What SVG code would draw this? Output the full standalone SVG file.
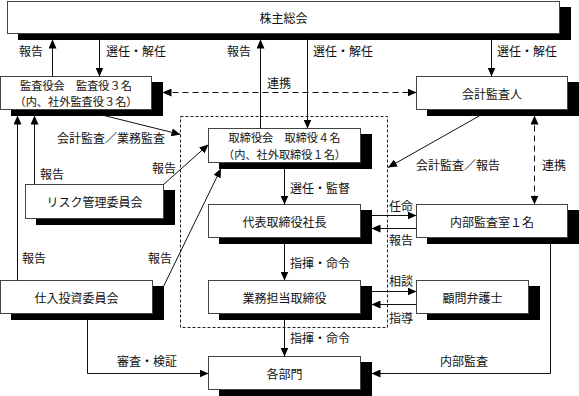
<svg xmlns="http://www.w3.org/2000/svg" width="579" height="396" viewBox="0 0 579 396">
<style>
text{font-family:"Noto Sans CJK JP","Noto Sans CJK SC",sans-serif;font-size:12px;fill:#111}
.box{fill:#fff;stroke:#444;stroke-width:1}
.sh{fill:#000}
.c{text-anchor:middle;dominant-baseline:central}
.c2{text-anchor:middle;dominant-baseline:central;font-size:11.2px}
.l{dominant-baseline:central}
.ln{fill:none;stroke:#111;stroke-width:1}
.ar{marker-end:url(#ah)}
.dash{stroke-dasharray:6 4;marker-start:url(#ah);marker-end:url(#ah)}
.grp{fill:none;stroke:#222;stroke-width:1;stroke-dasharray:3 2}
</style>
<defs>
<marker id="ah" viewBox="0 0 9 8" refX="9" refY="4" markerWidth="9" markerHeight="8" markerUnits="userSpaceOnUse" orient="auto-start-reverse">
<path d="M0,0 L9,4 L0,8 z" fill="#000"/>
</marker>
</defs>
<rect class="grp" x="180.5" y="116.5" width="207" height="211"/>
<g id="n-shareholders">
<rect class="sh" x="18" y="7" width="553" height="33"/>
<rect class="box" x="7.5" y="1.5" width="552" height="32"/>
<text class="c" x="283.5" y="17.5">株主総会</text>
</g>
<g id="n-auditboard">
<rect class="sh" x="11" y="82" width="152" height="34"/>
<rect class="box" x="0.5" y="76.5" width="151" height="33"/>
<text class="c2" x="76" y="84.8">監査役会　監査役３名</text>
<text class="c2" x="76" y="101.2">（内、社外監査役３名）</text>
</g>
<g id="n-accountant">
<rect class="sh" x="427" y="82" width="152" height="34"/>
<rect class="box" x="416.5" y="76.5" width="151" height="33"/>
<text class="c" x="492" y="93">会計監査人</text>
</g>
<g id="n-board">
<rect class="sh" x="219" y="134" width="153" height="35"/>
<rect class="box" x="208.5" y="128.5" width="152" height="34"/>
<text class="c2" x="284.5" y="137.3">取締役会　取締役４名</text>
<text class="c2" x="284.5" y="153.7">（内、社外取締役１名）</text>
</g>
<g id="n-president">
<rect class="sh" x="219" y="210" width="153" height="34"/>
<rect class="box" x="208.5" y="204.5" width="152" height="33"/>
<text class="c" x="284.5" y="221">代表取締役社長</text>
</g>
<g id="n-internalaudit">
<rect class="sh" x="427" y="210" width="152" height="34"/>
<rect class="box" x="416.5" y="204.5" width="151" height="33"/>
<text class="c" x="492" y="221">内部監査室１名</text>
</g>
<g id="n-risk">
<rect class="sh" x="36" y="190" width="139" height="35"/>
<rect class="box" x="25.5" y="184.5" width="138" height="34"/>
<text class="c" x="94.5" y="201.5">リスク管理委員会</text>
</g>
<g id="n-exec">
<rect class="sh" x="219" y="286" width="153" height="34"/>
<rect class="box" x="208.5" y="280.5" width="152" height="33"/>
<text class="c" x="284.5" y="297">業務担当取締役</text>
</g>
<g id="n-lawyer">
<rect class="sh" x="427" y="286" width="113" height="34"/>
<rect class="box" x="416.5" y="280.5" width="112" height="33"/>
<text class="c" x="472.5" y="297">顧問弁護士</text>
</g>
<g id="n-invest">
<rect class="sh" x="11" y="286" width="153" height="34"/>
<rect class="box" x="0.5" y="280.5" width="152" height="33"/>
<text class="c" x="76.5" y="297">仕入投資委員会</text>
</g>
<g id="n-depts">
<rect class="sh" x="219" y="362" width="153" height="34"/>
<rect class="box" x="208.5" y="356.5" width="152" height="33"/>
<text class="c" x="284.5" y="373">各部門</text>
</g>
<g id="connectors">
<path class="ln ar" d="M52.5,76.5 V39.5"/>
<path class="ln ar" d="M99.5,39.5 V76.5"/>
<path class="ln ar" d="M260.5,128.5 V39.5"/>
<path class="ln ar" d="M307.5,39.5 V128.5"/>
<path class="ln ar" d="M491.5,39.5 V76.5"/>
<path class="ln dash" d="M162.5,92.5 H416.5"/>
<path class="ln ar" d="M98,114 L180.5,134.5"/>
<path class="ln ar" d="M34.5,184.5 V115.5"/>
<path class="ln ar" d="M17.5,280.5 V115.5"/>
<path class="ln ar" d="M163.5,184.5 L208.5,144.5"/>
<path class="ln ar" d="M163.5,286.5 L221,168.5"/>
<path class="ln ar" d="M480,115.5 L388,167.5"/>
<path class="ln dash" d="M534.5,115.5 V204.5"/>
<path class="ln ar" d="M284.5,168.5 V204.5"/>
<path class="ln ar" d="M284.5,243.5 V280.5"/>
<path class="ln ar" d="M284.5,319.5 V356.5"/>
<path class="ln ar" d="M371.5,215.5 H416.5"/>
<path class="ln ar" d="M416.5,228.5 H371.5"/>
<path class="ln ar" d="M371.5,291.5 H416.5"/>
<path class="ln ar" d="M416.5,304.5 H371.5"/>
<path class="ln ar" d="M87.5,319.5 V373.5 H208.5"/>
<path class="ln ar" d="M550.5,243.5 V373.5 H371.5"/>
<text class="l" x="19" y="50">報告</text>
<text class="l" x="106" y="50">選任・解任</text>
<text class="l" x="227" y="50">報告</text>
<text class="l" x="313" y="50">選任・解任</text>
<text class="l" x="497" y="50">選任・解任</text>
<text class="l" x="267" y="82">連携</text>
<text class="l" x="57" y="137">会計監査／業務監査</text>
<text class="l" x="152" y="167">報告</text>
<text class="l" x="40" y="173">報告</text>
<text class="l" x="416" y="164">会計監査／報告</text>
<text class="l" x="542" y="164">連携</text>
<text class="l" x="290" y="187">選任・監督</text>
<text class="l" x="389" y="205">任命</text>
<text class="l" x="389" y="239">報告</text>
<text class="l" x="22" y="257">報告</text>
<text class="l" x="148" y="257">報告</text>
<text class="l" x="290" y="262">指揮・命令</text>
<text class="l" x="389" y="280">相談</text>
<text class="l" x="389" y="317">指導</text>
<text class="l" x="290" y="337">指揮・命令</text>
<text class="l" x="117" y="360">審査・検証</text>
<text class="l" x="440" y="360">内部監査</text>
</g>
</svg>
